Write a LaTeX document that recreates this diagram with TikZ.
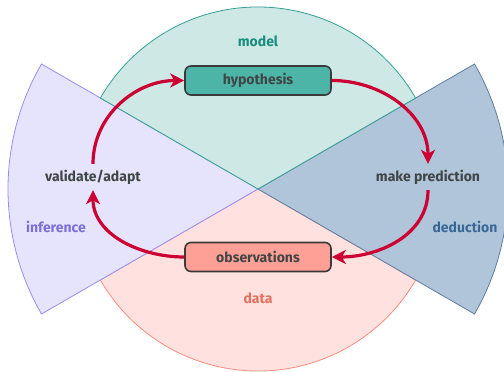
\documentclass[tikz,border=0pt]{standalone}
\usepackage{fontspec}
\setmainfont{Fira Sans}
\usetikzlibrary{arrows.meta}

\definecolor{modelfill}{RGB}{205,232,229}
\definecolor{modelline}{RGB}{52,160,148}
\definecolor{modeltext}{RGB}{26,140,125}
\definecolor{datafill}{RGB}{255,226,223}
\definecolor{dataline}{RGB}{250,140,125}
\definecolor{datatext}{RGB}{224,112,96}
\definecolor{inffill}{RGB}{230,228,252}
\definecolor{infline}{RGB}{150,142,245}
\definecolor{inftext}{RGB}{122,112,216}
\definecolor{dedfill}{RGB}{176,197,218}
\definecolor{dedline}{RGB}{95,125,160}
\definecolor{dedtext}{RGB}{58,104,150}
\definecolor{hypfill}{RGB}{77,180,168}
\definecolor{obsfill}{RGB}{255,160,150}
\definecolor{boxline}{RGB}{58,58,58}
\definecolor{labeltext}{RGB}{64,69,69}
\definecolor{cycle}{RGB}{204,0,51}

\tikzset{
  stage/.style={draw=boxline, line width=1.6pt, rounded corners=6pt,
    minimum width=146pt, minimum height=29pt, inner sep=0pt,
    font=\fontsize{14}{16}\selectfont\bfseries, text=labeltext},
  action/.style={inner sep=0pt, minimum height=26pt,
    font=\fontsize{14}{16}\selectfont\bfseries, text=labeltext},
  region/.style={font=\fontsize{14}{16}\selectfont\bfseries},
  flow/.style={draw=cycle, line width=3.2pt,
    -{Stealth[length=14pt,width=14pt,inset=4pt]}},
}

\begin{document}
\begin{tikzpicture}[x=1pt,y=1pt]
  \useasboundingbox (-258,-183) rectangle (246,189);

  % sectors: data, inference, deduction, model
  \draw[fill=datafill, draw=dataline, line width=0.8pt]
    (0,0) -- (210:182) arc[start angle=210, end angle=330, radius=182] -- cycle;
  \draw[fill=inffill, draw=infline, line width=0.8pt]
    (0,0) -- (150:250) arc[start angle=150, end angle=210, radius=250] -- cycle;
  \draw[fill=dedfill, draw=dedline, line width=0.8pt]
    (0,0) -- (-30:250) arc[start angle=-30, end angle=30, radius=250] -- cycle;
  \draw[fill=modelfill, draw=modelline, line width=0.8pt]
    (0,0) -- (30:182) arc[start angle=30, end angle=150, radius=182] -- cycle;

  % region names
  \node[region, text=modeltext] (model) at (0,148) {model};
  \node[region, text=datatext] (data) at (0,-109) {data};
  \node[region, text=inftext] (inference) at (-202,-38) {inference};
  \node[region, text=dedtext] (deduction) at (207,-38) {deduction};

  % stages of the cycle
  \node[stage, fill=hypfill] (hyp) at (0,108.5) {hypothesis};
  \node[stage, fill=obsfill] (obs) at (0,-68) {observations};
  \node[action] (validate) at (-165,12) {validate/adapt};
  \node[action] (predict) at (170,12) {make prediction};

  % the cycle
  \draw[flow] (validate.north) to[out=90, in=180] (hyp.west);
  \draw[flow] (hyp.east) to[out=0, in=90] (predict.north);
  \draw[flow] (predict.south) to[out=-90, in=0] (obs.east);
  \draw[flow] (obs.west) to[out=180, in=-90] (validate.south);
\end{tikzpicture}
\end{document}
